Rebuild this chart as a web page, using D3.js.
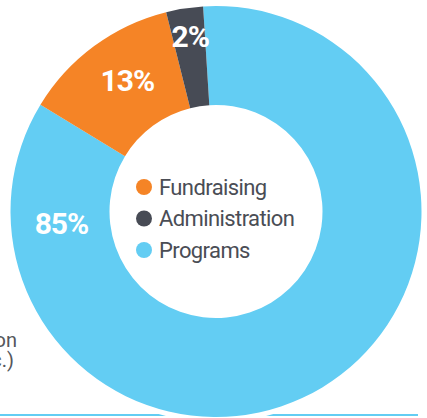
<!DOCTYPE html>
<html>
<head>
<meta charset="utf-8">
<script src="https://cdn.jsdelivr.net/npm/d3@7"></script>
<style>
  html, body { margin: 0; padding: 0; background: #fff; overflow: hidden; }
</style>
</head>
<body>
<div id="chart"></div>
<script>
const categories = ["Programs", "Fundraising", "Administration"];
const values = [84.7, 12.4, 2.9];
const labels = ["85%", "13%", "2%"];
const legendOrder = ["Fundraising", "Administration", "Programs"];

// where each percent label sits (angle in degrees, radius)
const labelAngle = [-94.3, -34.1, -8.4];
const labelRadius = [155, 158, 177];

const width = 427, height = 418;
const cx = 216, cy = 211.5;
const outerR = 205.5, innerR = 106.5;

const color = d3.scaleOrdinal()
    .domain(categories)
    .range(["#63cdf3", "#f58426", "#474b55"]);

const svg = d3.select("#chart")
  .append("svg")
    .attr("width", width)
    .attr("height", height);

// bottom rule
svg.append("rect")
    .attr("x", 0)
    .attr("y", 414)
    .attr("width", 418)
    .attr("height", 2)
    .attr("fill", "#63cdf3");

// cut-off text from the neighbouring block
svg.append("text")
    .attr("x", 17)
    .attr("y", 347)
    .attr("text-anchor", "end")
    .attr("font-family", "Roboto")
    .attr("font-size", 20)
    .attr("fill", "#55575c")
    .text("on");
svg.append("text")
    .attr("x", 14)
    .attr("y", 367)
    .attr("text-anchor", "end")
    .attr("font-family", "Roboto")
    .attr("font-size", 20)
    .attr("fill", "#55575c")
    .text("etc.)");

const g = svg.append("g")
    .attr("transform", "translate(" + cx + "," + cy + ")");

// white halo behind the ring
g.append("circle")
    .attr("r", outerR + 5)
    .attr("fill", "#fff");

const start = -3.6 * Math.PI / 180;
const pie = d3.pie()
    .sort(null)
    .value(d => d.value)
    .startAngle(start)
    .endAngle(start + 2 * Math.PI);

const data = categories.map((c, i) => ({ name: c, value: values[i], label: labels[i] }));

const arc = d3.arc()
    .innerRadius(innerR)
    .outerRadius(outerR);

g.selectAll("path.slice")
  .data(pie(data))
  .join("path")
    .attr("class", "slice")
    .attr("d", arc)
    .attr("fill", d => color(d.data.name));

// percent labels
g.selectAll("text.pct")
  .data(data)
  .join("text")
    .attr("class", "pct")
    .attr("transform", (d, i) => {
      const p = d3.pointRadial(labelAngle[i] * Math.PI / 180, labelRadius[i]);
      return "translate(" + p[0] + "," + p[1] + ")";
    })
    .attr("dy", "0.36em")
    .attr("text-anchor", "middle")
    .attr("font-family", "Roboto")
    .attr("font-weight", "bold")
    .attr("font-size", 30)
    .attr("letter-spacing", -1)
    .attr("fill", "#fff")
    .text(d => d.label);

// legend in the hole
const legend = svg.append("g")
    .attr("transform", "translate(144,187)");

const item = legend.selectAll("g")
  .data(legendOrder)
  .join("g")
    .attr("transform", (d, i) => "translate(0," + i * 31.5 + ")");

item.append("circle")
    .attr("r", 8)
    .attr("fill", d => color(d));

item.append("text")
    .attr("x", 15)
    .attr("y", 7.5)
    .attr("font-family", "Roboto")
    .attr("font-size", 22)
    .attr("letter-spacing", -0.6)
    .attr("fill", "#4a4d55")
    .text(d => d);
</script>
</body>
</html>
